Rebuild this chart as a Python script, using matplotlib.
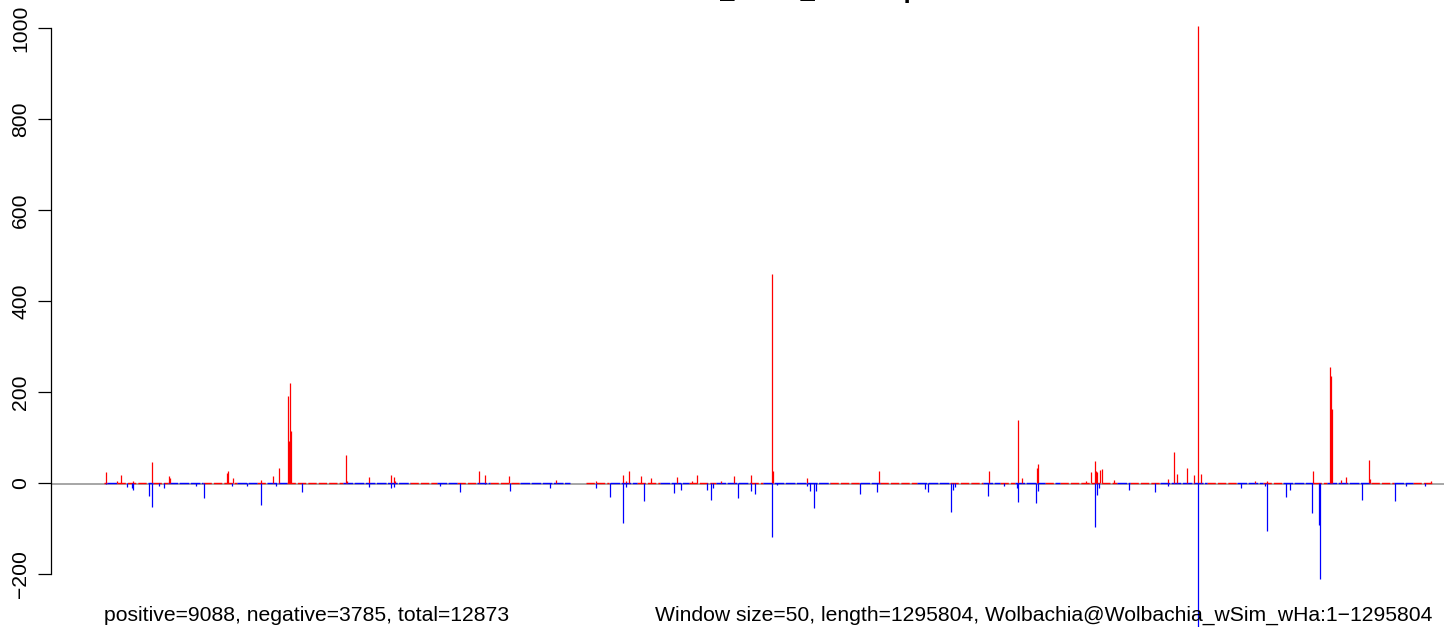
import matplotlib
matplotlib.use("Agg")
import matplotlib.pyplot as plt

plt.rcParams['font.family'] = ['Liberation Sans', 'DejaVu Sans']

# ---- data (positions in kb along the 1,295,804 bp genome) ----
genome_kb = 1295.804
title = "Wolbachia_wSim_wHa depth"
left_note = "positive=9088, negative=3785, total=12873"
right_note = "Window size=50, length=1295804, Wolbachia@Wolbachia_wSim_wHa:1\u22121295804"
y_ticks = [-200, 0, 200, 400, 600, 800, 1000]

pos_kb = [2.2, 12.7, 16.9, 28.3, 47.1, 63.7, 64.7, 120.3, 121.3, 126.2, 153.2, 165.2,
          171.0, 179.8, 180.8, 181.8, 182.8, 236.4, 237.4, 258.9, 280.3, 283.3, 284.3,
          366.2, 372.1, 395.2, 441.3, 480.4, 506.7, 509.6, 512.6, 524.3, 534.0, 559.4,
          574.0, 578.9, 602.3, 615.0, 631.6, 652.1, 653.1, 686.2, 756.5, 863.5, 892.1,
          896.0, 910.7, 911.6, 958.2, 963.4, 967.3, 968.2, 969.2, 972.1, 974.1, 985.8,
          1038.5, 1044.3, 1047.3, 1057.0, 1063.9, 1067.7, 1070.7, 1123.4, 1135.1, 1180.0,
          1196.6, 1197.5, 1198.5, 1207.0, 1212.2, 1234.6, 1235.6, 1294.8]
pos_val = [25, 5, 18, 5, 47, 16, 12, 23, 27, 12, 7, 16,
           32, 192, 93, 220, 115, 62, 5, 14, 18, 14, 5,
           27, 18, 15, 7, 5, 18, 5, 27, 16, 12, 14,
           5, 18, 5, 16, 18, 460, 27, 12, 27, 27, 139,
           10, 34, 42, 5, 25, 49, 27, 25, 29, 31, 7,
           9, 69, 20, 34, 18, 1005, 20, 4, 4, 27,
           256, 236, 163, 7, 14, 51, 9, 5]

neg_kb = [2.0, 22.7, 27.6, 28.6, 44.2, 47.1, 54.0, 58.8, 90.1, 97.9, 125.2, 139.8,
          153.5, 168.1, 193.5, 258.9, 280.3, 283.3, 328.1, 347.7, 372.1, 396.2, 435.5,
          480.4, 494.0, 506.7, 509.6, 527.2, 556.5, 563.2, 588.7, 592.5, 594.5, 618.9,
          631.6, 635.5, 652.1, 657.0, 686.2, 689.2, 693.1, 695.0, 737.9, 754.5, 801.4,
          804.3, 826.8, 828.7, 830.6, 862.8, 878.5, 891.1, 892.1, 909.7, 911.6, 967.3,
          969.2, 971.2, 1000.4, 1025.8, 1038.5, 1067.7, 1109.7, 1133.2, 1135.1, 1153.6,
          1157.5, 1179.0, 1185.8, 1186.8, 1227.8, 1260.0, 1270.4, 1289.3]
neg_val = [-3, -8, -10, -15, -28, -52, -6, -12, -6, -32, -6, -6,
           -48, -6, -19, -8, -10, -8, -6, -19, -3, -18, -10,
           -10, -30, -89, -8, -39, -23, -15, -15, -37, -10, -32,
           -17, -25, -118, -4, -6, -17, -56, -17, -25, -19, -13,
           -19, -63, -15, -8, -28, -6, -10, -41, -45, -17, -97,
           -26, -12, -15, -19, -6, -330, -10, -6, -105, -30,
           -15, -65, -93, -210, -37, -39, -6, -6]

# stretches of the baseline where tiny positive / negative counts dominate
red_span_start = [0.0, 12.7, 47.8, 96.6, 149.3, 178.6, 298.6, 344.4, 376.6, 469.9,
                  520.1, 571.3, 630.4, 708.4, 757.2, 825.5, 874.3, 918.2, 932.8, 1001.1,
                  1076.6, 1131.3, 1180.1, 1235.8, 1277.4]
red_span_end = [2.9, 42.9, 62.4, 129.8, 159.0, 233.2, 324.9, 363.9, 405.9, 492.3,
                542.5, 597.6, 643.1, 737.7, 793.3, 857.7, 888.9, 927.9, 988.4, 1030.4,
                1105.9, 1150.8, 1193.8, 1258.3, 1295.8]
blue_span_start = [2.9, 42.9, 62.4, 129.8, 159.0, 233.2, 324.9, 363.9, 405.9, 493.7,
                   542.5, 597.6, 643.1, 737.7, 793.3, 857.7, 888.9, 927.9, 988.4, 1030.4,
                   1105.5, 1150.8, 1193.8, 1258.3]
blue_span_end = [12.7, 47.8, 96.6, 149.3, 178.6, 298.6, 344.4, 376.6, 454.7, 520.1,
                 571.3, 630.4, 708.4, 757.2, 825.5, 874.3, 918.2, 932.8, 1001.1, 1076.6,
                 1131.3, 1180.1, 1235.8, 1277.4]

# ---- figure ----
W, H = 1444, 627
fig = plt.figure(figsize=(W / 100, H / 100), dpi=100)

kb_per_px = genome_kb / (1432 - 104)
x0 = (51 - 104) * kb_per_px
x1 = (1444 - 104) * kb_per_px
px_per_unit = 0.455
ax = fig.add_axes([51 / W, 0, (W - 51) / W, 1])
ax.set_xlim(x0, x1)
ax.set_ylim(-(H - 483) / px_per_unit, 483 / px_per_unit)

ax.axhline(-1.8, color='#a6a6a6', lw=1.4, zorder=1)
ax.hlines([0.6] * len(red_span_start), red_span_start, red_span_end,
          color='#ff0000', lw=1.0, zorder=2, linestyles=(0, (6, 1.5)))
ax.hlines([0.4] * len(blue_span_start), blue_span_start, blue_span_end,
          color='#0000ff', lw=1.0, zorder=2, linestyles=(0, (7, 1)))
ax.vlines(pos_kb, 0, pos_val, color='#ff0000', lw=0.9, zorder=3)
ax.vlines(neg_kb, 0, neg_val, color='#0000ff', lw=0.9, zorder=3)

for s in ['top', 'right', 'bottom']:
    ax.spines[s].set_visible(False)
ax.spines['left'].set_bounds(-200, 1000)
ax.spines['left'].set_linewidth(0.9)
ax.set_xticks([])
ax.set_yticks(y_ticks)
ax.set_yticklabels([str(t).replace('-', '\u2212') for t in y_ticks],
                   rotation=90, va='center', fontsize=15.25)
ax.tick_params(axis='y', length=9.1, width=0.9, pad=5.8)

fig.text(768 / W, 1 + 2.5 / H, title, ha='center', va='baseline',
         fontsize=18.3, fontweight='bold')
fig.text(104 / W, 6 / H, left_note, ha='left', va='baseline', fontsize=15.25)
fig.text(1432 / W, 6 / H, right_note, ha='right', va='baseline', fontsize=15.25)

fig.savefig('out.png', dpi=100)
